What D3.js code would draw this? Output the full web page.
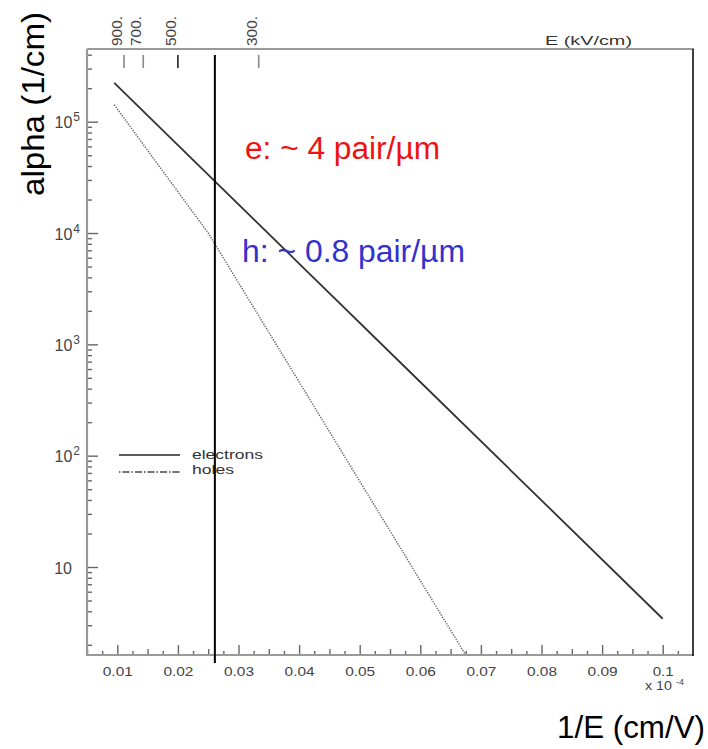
<!DOCTYPE html>
<html>
<head>
<meta charset="utf-8">
<script src="https://cdn.jsdelivr.net/npm/d3@7/dist/d3.min.js"></script>
<style>
  html, body { margin: 0; padding: 0; background: #fff; }
  svg { display: block; font-family: "Liberation Sans", Arial, Helvetica, sans-serif; }
</style>
</head>
<body>
<svg id="chart" width="708" height="749"></svg>
<script>
// Impact ionization coefficient vs inverse field (1/E in units of 1e-4 cm/V)
const electronInvE  = [0.0095, 0.02, 0.04, 0.06, 0.08, 0.1];
const electronAlpha = [2.23e5, 6.15e4, 5.32e3, 459, 39.7, 3.43];

// holes: high-field branch up to 1/E = 0.025, low-field branch beyond
const holeInvE  = [0.0095, 0.0175, 0.025, 0.04, 0.055, 0.0674];
const holeAlpha = [1.42e5, 3.6e4, 1.0e4, 460, 21.1, 1.65];

// axis ranges and ticks
const xRange = [0.005, 0.105];
const yRange = [1.62, 4.5e5];
const xMajorTicks = [0.01, 0.02, 0.03, 0.04, 0.05, 0.06, 0.07, 0.08, 0.09, 0.1];
const xTickLabels = ["0.01", "0.02", "0.03", "0.04", "0.05", "0.06", "0.07", "0.08", "0.09", "0.1"];
const yDecades = [10, 100, 1000, 1e4, 1e5];
const yDecadeLabels = [["10", ""], ["10", "2"], ["10", "3"], ["10", "4"], ["10", "5"]];
const fieldTicks = [900, 700, 500, 300];           // kV/cm on the top scale
const fieldTickLabels = ["900.", "700.", "500.", "300."];
const markerInvE = 0.0261;                          // operating-field marker

const legendItems = ["electrons", "holes"];

const svg = d3.select("#chart");
const plot = { left: 87, right: 693, top: 49, bottom: 655 };

const x = d3.scaleLinear().domain(xRange).range([plot.left, plot.right]);
const y = d3.scaleLog().domain(yRange).range([plot.bottom, plot.top]);

const axisGrey = "#999";
const tickGrey = "#666";
const labelGrey = "#444";

// ---- bottom axis (ticks point inward) ----
const xMinor = d3.range(0.0075, 0.105, 0.0025).filter(v => Math.abs(v * 200 - Math.round(v * 200)) > 1e-6);
const xMid = d3.range(0.005, 0.105, 0.01);

function styleAxis(g) {
  g.select(".domain").remove();
  g.selectAll(".tick line").attr("stroke", tickGrey).attr("stroke-width", 1.4);
}

svg.append("g")
  .attr("transform", `translate(0,${plot.bottom})`)
  .call(d3.axisBottom(x).tickValues(xMinor).tickSize(-4).tickFormat(""))
  .call(styleAxis);
svg.append("g")
  .attr("transform", `translate(0,${plot.bottom})`)
  .call(d3.axisBottom(x).tickValues(xMid).tickSize(-6).tickFormat(""))
  .call(styleAxis);
const xMajorG = svg.append("g")
  .attr("transform", `translate(0,${plot.bottom})`)
  .call(d3.axisBottom(x).tickValues(xMajorTicks).tickSize(-10).tickPadding(0)
        .tickFormat((d, i) => xTickLabels[i]))
  .call(styleAxis);
xMajorG.selectAll(".tick text")
  .attr("y", 21)
  .attr("dy", 0)
  .attr("fill", labelGrey)
  .attr("font-size", 13.5)
  .attr("font-family", "Liberation Sans, Arial, sans-serif")
  .attr("textLength", (d, i) => xTickLabels[i].length === 3 ? 21 : 30)
  .attr("lengthAdjust", "spacingAndGlyphs");

// ---- left axis (log, ticks point inward) ----
const yMinor = [];
for (let e = 0; e <= 5; e++) {
  for (let m = 2; m <= 9; m++) {
    const v = m * Math.pow(10, e);
    if (v >= yRange[0] && v <= yRange[1]) yMinor.push(v);
  }
}
svg.append("g")
  .attr("transform", `translate(${plot.left},0)`)
  .call(d3.axisLeft(y).tickValues(yMinor).tickSize(-5).tickFormat(""))
  .call(styleAxis);
const yMajorG = svg.append("g")
  .attr("transform", `translate(${plot.left},0)`)
  .call(d3.axisLeft(y).tickValues(yDecades).tickSize(-11).tickFormat(""))
  .call(styleAxis);
yMajorG.selectAll(".tick").each(function (d, i) {
  const t = d3.select(this).append("text")
    .attr("x", -15)
    .attr("y", 6)
    .attr("text-anchor", "end")
    .attr("fill", labelGrey)
    .attr("font-size", 16)
    .attr("font-family", "Liberation Sans, Arial, sans-serif");
  const [base, sup] = yDecadeLabels[i];
  if (sup) {
    t.attr("x", -7);
    t.append("tspan").text(base);
    t.append("tspan").attr("dx", 1).attr("dy", -7).attr("font-size", 12).text(sup);
  } else {
    t.text(base);
  }
});

// ---- frame lines ----
svg.append("line")
  .attr("x1", plot.left).attr("x2", plot.right + 1)
  .attr("y1", plot.bottom).attr("y2", plot.bottom)
  .attr("stroke", axisGrey).attr("stroke-width", 2.2);
svg.append("line")
  .attr("x1", plot.left).attr("x2", plot.left)
  .attr("y1", plot.top).attr("y2", plot.bottom + 1)
  .attr("stroke", axisGrey).attr("stroke-width", 2.2);
svg.append("line")
  .attr("x1", plot.left).attr("x2", plot.right + 1)
  .attr("y1", plot.top).attr("y2", plot.top)
  .attr("stroke", axisGrey).attr("stroke-width", 2.2);
svg.append("line")
  .attr("x1", plot.right).attr("x2", plot.right)
  .attr("y1", plot.top).attr("y2", plot.bottom + 1)
  .attr("stroke", "#111").attr("stroke-width", 1.6);

// ---- top field scale: E in kV/cm placed at 1/E ----
const fieldX = E => x(10 / E);   // 1/(E·1e3 V/cm) expressed in 1e-4 cm/V
const fieldG = svg.append("g");
fieldG.selectAll("line.ftick")
  .data(fieldTicks)
  .join("line")
  .attr("class", "ftick")
  .attr("x1", d => fieldX(d)).attr("x2", d => fieldX(d))
  .attr("y1", 55).attr("y2", 68)
  .attr("stroke", (d, i) => i === 2 ? "#222" : "#888")
  .attr("stroke-width", 1.6);
fieldG.selectAll("text.flabel")
  .data(fieldTicks)
  .join("text")
  .attr("class", "flabel")
  .attr("transform", d => `translate(${fieldX(d) - 2},46) rotate(-90)`)
  .attr("fill", labelGrey)
  .attr("font-size", 14)
  .attr("textLength", 30)
  .attr("lengthAdjust", "spacingAndGlyphs")
  .text((d, i) => fieldTickLabels[i]);
svg.append("text")
  .attr("x", 545).attr("y", 45)
  .attr("fill", "#333")
  .attr("font-size", 13)
  .attr("textLength", 87)
  .attr("lengthAdjust", "spacingAndGlyphs")
  .text("E (kV/cm)");

// ---- curves ----
const electrons = electronInvE.map((v, i) => ({ x: v, y: electronAlpha[i] }));
const holes = holeInvE.map((v, i) => ({ x: v, y: holeAlpha[i] }));
const line = d3.line().x(d => x(d.x)).y(d => y(d.y));

svg.append("path")
  .datum(electrons)
  .attr("d", line)
  .attr("fill", "none")
  .attr("stroke", "#333")
  .attr("stroke-width", 1.8);
svg.append("path")
  .datum(holes)
  .attr("d", line)
  .attr("fill", "none")
  .attr("stroke", "#666")
  .attr("stroke-width", 1.5)
  .attr("stroke-dasharray", "1.3,1.3");

// ---- legend ----
const legend = svg.append("g");
legend.append("line")
  .attr("x1", 119).attr("x2", 180).attr("y1", 455).attr("y2", 455)
  .attr("stroke", "#222").attr("stroke-width", 1.4);
legend.append("line")
  .attr("x1", 119).attr("x2", 180).attr("y1", 472).attr("y2", 472)
  .attr("stroke", "#444").attr("stroke-width", 1.4)
  .attr("stroke-dasharray", "1.5,2,7,2");
legend.selectAll("text")
  .data(legendItems)
  .join("text")
  .attr("x", 192)
  .attr("y", (d, i) => 459 + i * 15)
  .attr("fill", "#333")
  .attr("font-size", 13)
  .attr("textLength", (d, i) => i === 0 ? 71 : 42)
  .attr("lengthAdjust", "spacingAndGlyphs")
  .text(d => d);

// ---- operating-field marker ----
svg.append("line")
  .attr("x1", x(markerInvE)).attr("x2", x(markerInvE))
  .attr("y1", 55).attr("y2", 663)
  .attr("stroke", "#000").attr("stroke-width", 2);

// ---- annotations ----
svg.append("text")
  .attr("x", 245).attr("y", 159)
  .attr("fill", "#ee1111")
  .attr("font-size", 31)
  .attr("font-family", "Liberation Sans, Arial, sans-serif")
  .attr("textLength", 195)
  .attr("lengthAdjust", "spacingAndGlyphs")
  .text("e: ~ 4 pair/µm");
svg.append("text")
  .attr("x", 242).attr("y", 262)
  .attr("fill", "#3333cc")
  .attr("font-size", 31)
  .attr("font-family", "Liberation Sans, Arial, sans-serif")
  .attr("textLength", 223)
  .attr("lengthAdjust", "spacingAndGlyphs")
  .text("h: ~ 0.8 pair/µm");

// axis titles
svg.append("text")
  .attr("transform", "translate(44,104) rotate(-90)")
  .attr("text-anchor", "middle")
  .attr("fill", "#000")
  .attr("font-size", 31)
  .attr("textLength", 184)
  .attr("lengthAdjust", "spacingAndGlyphs")
  .text("alpha (1/cm)");
svg.append("text")
  .attr("x", 557).attr("y", 738)
  .attr("fill", "#000")
  .attr("font-size", 31)
  .attr("textLength", 148)
  .attr("lengthAdjust", "spacingAndGlyphs")
  .text("1/E (cm/V)");

// exponent of the x scale
svg.append("text")
  .attr("x", 645).attr("y", 690)
  .attr("fill", labelGrey)
  .attr("font-size", 12)
  .attr("textLength", 27)
  .attr("lengthAdjust", "spacingAndGlyphs")
  .text("x 10");
svg.append("text")
  .attr("x", 676).attr("y", 685)
  .attr("fill", labelGrey)
  .attr("font-size", 9)
  .text("-4");
</script>
</body>
</html>
